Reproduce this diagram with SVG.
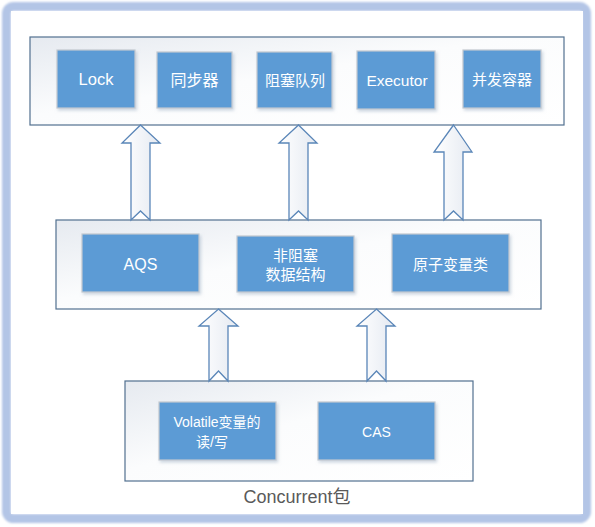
<svg xmlns="http://www.w3.org/2000/svg" width="595" height="527" viewBox="0 0 595 527">
<defs>
<linearGradient id="cg" x1="0" y1="0" x2="1" y2="1">
<stop offset="0" stop-color="#e6eaf0"/>
<stop offset="0.45" stop-color="#fbfcfd"/>
<stop offset="1" stop-color="#ffffff"/>
</linearGradient>
<linearGradient id="ag" x1="0" y1="0" x2="1" y2="0">
<stop offset="0" stop-color="#ffffff"/>
<stop offset="1" stop-color="#e4e9f1"/>
</linearGradient>
<filter id="sh" x="-10%" y="-10%" width="130%" height="130%">
<feDropShadow dx="1.5" dy="2" stdDeviation="1.5" flood-color="#9fb0c4" flood-opacity="0.5"/>
</filter>
<filter id="fb" x="-5%" y="-5%" width="110%" height="110%">
<feGaussianBlur stdDeviation="1.2"/>
</filter>
</defs>
<style>
.cont{fill:url(#cg);stroke:#52708f;stroke-width:1.2}
.box{fill:#5b9bd5;stroke:#c3c9d0;stroke-width:1.2;filter:url(#sh)}
.t{fill:#ffffff;font-family:"Liberation Sans","Noto Sans CJK SC",sans-serif;font-size:15px;text-anchor:middle;dominant-baseline:central}
.arr{fill:url(#ag);stroke:#5a86b8;stroke-width:1.3;stroke-linejoin:miter}
.lbl{fill:#5a5a5a;font-family:"Liberation Sans","Noto Sans CJK SC",sans-serif;font-size:18px;text-anchor:middle}
</style>
<rect x="0" y="0" width="595" height="527" fill="#ffffff"/>
<rect x="6.5" y="6.5" width="580" height="512" rx="7" fill="none" stroke="#b3c5e6" stroke-width="9" filter="url(#fb)"/>
<rect x="11" y="11" width="572" height="503" fill="#ffffff"/>

<g id="top-container"><rect class="cont" x="30" y="37" width="534" height="88"/></g>
<g id="middle-container"><rect class="cont" x="56" y="220" width="485" height="89"/></g>
<g id="bottom-container"><rect class="cont" x="125" y="381" width="348" height="100"/></g>

<g id="connectors">
<path class="arr" d="M140.5,125 L160,143 L150,143 L150,220 L140.5,211 L131,220 L131,143 L122,143 Z"/>
<path class="arr" d="M298.5,125 L317,143 L308,143 L308,220 L298.5,211 L289,220 L289,143 L279,143 Z"/>
<path class="arr" d="M453.5,125 L472,152 L463,152 L463,220 L453.5,211 L444,220 L444,152 L434,152 Z"/>
<path class="arr" d="M218.5,309 L238,326 L228,326 L228,381 L218.5,371 L209,381 L209,326 L199,326 Z"/>
<path class="arr" d="M376.5,309 L395,326 L386,326 L386,381 L376.5,371 L367,381 L367,326 L357,326 Z"/>
</g>

<g id="lock"><rect class="box" x="57" y="50" width="78" height="58"/><text class="t" x="96" y="79" style="font-size:16.5px">Lock</text></g>
<g id="sync"><rect class="box" x="157" y="52" width="75" height="56"/><text class="t" x="194.5" y="80" style="font-size:16px">同步器</text></g>
<g id="blockingqueue"><rect class="box" x="257" y="52" width="75" height="56"/><text class="t" x="295" y="80">阻塞队列</text></g>
<g id="executor"><rect class="box" x="357" y="51" width="78" height="58"/><text class="t" x="397" y="80" style="font-size:15.5px">Executor</text></g>
<g id="concurrent-containers"><rect class="box" x="463" y="50" width="78" height="58"/><text class="t" x="502" y="79">并发容器</text></g>

<g id="aqs"><rect class="box" x="82" y="234" width="117" height="58"/><text class="t" x="140.5" y="264" style="font-size:16px">AQS</text></g>
<g id="nonblocking"><rect class="box" x="237" y="236" width="117" height="56"/><text class="t" x="295.5" y="255">非阻塞</text><text class="t" x="295.5" y="274">数据结构</text></g>
<g id="atomic"><rect class="box" x="392" y="234" width="117" height="58"/><text class="t" x="450.5" y="264">原子变量类</text></g>

<g id="volatile"><rect class="box" x="159" y="402" width="117" height="58"/><text class="t" x="217" y="422" style="font-size:14px">Volatile变量的</text><text class="t" x="212" y="442" style="font-size:14px">读/写</text></g>
<g id="cas"><rect class="box" x="318" y="402" width="117" height="58"/><text class="t" x="376.5" y="432" style="font-size:14px">CAS</text></g>

<text class="lbl" x="297" y="503">Concurrent包</text>
</svg>
